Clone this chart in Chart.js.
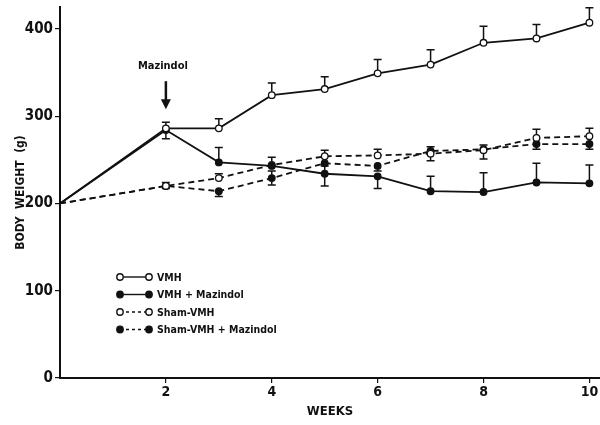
<!DOCTYPE html>
<html>
<head>
<meta charset="utf-8">
<script src="https://cdn.jsdelivr.net/npm/chart.js@4.4.1/dist/chart.umd.min.js"></script>
<style>
body{margin:0;background:#fff}
#contenedor{width:600px;height:425px;position:relative}
</style>
</head>
<body>
<div id="contenedor"><canvas id="grafica"></canvas></div>
<script>
// valores (peso en g por semana)
var semanas = [0, 2, 3, 4, 5, 6, 7, 8, 9, 10]
var vmh = [200, 286, 286, 324, 331, 349, 359, 384, 389, 407]
var vmh_err_arriba = [0, 7, 11, 14, 14, 16, 17, 19, 16, 17]
var vmh_err_abajo = [0, 0, 0, 0, 0, 0, 0, 0, 0, 0]
var vmh_maz = [200, 284, 247, 243, 234, 231, 214, 213, 224, 223]
var vmh_maz_err_arriba = [0, 0, 17, 0, 9, 0, 17, 22, 22, 21]
var vmh_maz_err_abajo = [0, 10, 0, 0, 14, 14, 0, 0, 0, 0]
var sham = [200, 220, 229, 244, 254, 255, 257, 261, 275, 277]
var sham_err_arriba = [0, 4, 5, 9, 7, 7, 0, 0, 10, 9]
var sham_err_abajo = [0, 0, 0, 0, 0, 0, 8, 10, 0, 0]
var sham_maz = [200, 220, 214, 229, 246, 243, 260, 262, 268, 268]
var sham_maz_err_arriba = [0, 0, 0, 8, 0, 0, 5, 5, 0, 0]
var sham_maz_err_abajo = [0, 3, 6, 8, 0, 6, 0, 0, 6, 6]
var etiquetas_y = [0, 100, 200, 300, 400]
var etiquetas_x = [2, 4, 6, 8, 10]
var nombres = ["VMH", "VMH + Mazindol", "Sham-VMH", "Sham-VMH + Mazindol"]

var fuente = "'DejaVu Sans Condensed', 'Liberation Sans Narrow', sans-serif"

function puntos(valores) {
    return semanas.map(function (s, i) { return { x: s, y: valores[i] } })
}

function serie(nombre, valores, relleno, guiones, arriba, abajo) {
    return {
        label: nombre,
        data: puntos(valores),
        borderColor: "#111",
        borderWidth: 1.8,
        borderDash: guiones,
        // en la semana 0 no hay marcador
        pointRadius: function (c) { return c.dataIndex === 0 ? 0 : 3.3 },
        pointBorderWidth: 1.3,
        pointBackgroundColor: relleno,
        pointBorderColor: "#111",
        tension: 0,
        clip: false,
        err_arriba: arriba,
        err_abajo: abajo
    }
}

// barras de error (solo en un sentido en casi todos los puntos)
var barras_error = {
    id: "barras_error",
    beforeDatasetsDraw: function (chart) {
        var ctx = chart.ctx
        var ey = chart.scales.y
        ctx.save()
        ctx.strokeStyle = "#111"
        ctx.lineWidth = 1.5
        chart.data.datasets.forEach(function (ds, d) {
            var meta = chart.getDatasetMeta(d)
            meta.data.forEach(function (p, i) {
                var v = ds.data[i].y
                var lados = [ds.err_arriba[i], -ds.err_abajo[i]]
                lados.forEach(function (e) {
                    if (!e) return
                    var y2 = ey.getPixelForValue(v + e)
                    ctx.beginPath()
                    ctx.moveTo(p.x, p.y)
                    ctx.lineTo(p.x, y2)
                    ctx.moveTo(p.x - 4, y2)
                    ctx.lineTo(p.x + 4, y2)
                    ctx.stroke()
                })
            })
        })
        ctx.restore()
    }
}

// flecha de Mazindol y leyenda dentro del area
var anotaciones = {
    id: "anotaciones",
    afterDatasetsDraw: function (chart) {
        var ctx = chart.ctx
        var ex = chart.scales.x, ey = chart.scales.y
        ctx.save()
        var x = ex.getPixelForValue(2)
        var y1 = ey.getPixelForValue(340), y2 = ey.getPixelForValue(308)
        ctx.fillStyle = "#111"
        ctx.strokeStyle = "#111"
        ctx.font = "bold 11px " + fuente
        ctx.textAlign = "center"
        ctx.fillText("Mazindol", x - 3, ey.getPixelForValue(354))
        ctx.lineWidth = 2.5
        ctx.beginPath()
        ctx.moveTo(x, y1)
        ctx.lineTo(x, y2 - 8)
        ctx.stroke()
        ctx.beginPath()
        ctx.moveTo(x - 5, y2 - 10)
        ctx.lineTo(x + 5, y2 - 10)
        ctx.lineTo(x, y2)
        ctx.closePath()
        ctx.fill()

        ctx.textAlign = "left"
        ctx.textBaseline = "middle"
        ctx.font = "bold 10.5px " + fuente
        chart.data.datasets.forEach(function (ds, i) {
            var yy = 277 + i * 17.5
            ctx.lineWidth = 1.4
            ctx.setLineDash(ds.borderDash.length ? [3, 3] : [])
            ctx.beginPath()
            ctx.moveTo(120, yy)
            ctx.lineTo(149, yy)
            ctx.stroke()
            ctx.setLineDash([])
            ;[120, 149].forEach(function (cx) {
                ctx.beginPath()
                ctx.arc(cx, yy, 3.2, 0, Math.PI * 2)
                ctx.fillStyle = ds.pointBackgroundColor
                ctx.fill()
                ctx.stroke()
            })
            ctx.fillStyle = "#111"
            ctx.fillText(ds.label, 157, yy + 1)
        })
        ctx.restore()
    }
}

var carga = {
    type: "line",
    data: {
        datasets: [
            serie(nombres[0], vmh, "#fff", [], vmh_err_arriba, vmh_err_abajo),
            serie(nombres[1], vmh_maz, "#111", [], vmh_maz_err_arriba, vmh_maz_err_abajo),
            serie(nombres[2], sham, "#fff", [6, 4], sham_err_arriba, sham_err_abajo),
            serie(nombres[3], sham_maz, "#111", [6, 4], sham_maz_err_arriba, sham_maz_err_abajo)
        ]
    },
    options: {
        responsive: true,
        maintainAspectRatio: false,
        animation: false,
        layout: { autoPadding: false, padding: { top: 7, right: 0, left: 0, bottom: 0 } },
        plugins: {
            legend: { display: false },
            tooltip: { enabled: false }
        },
        scales: {
            x: {
                type: "linear",
                min: 0,
                max: 10.2,
                afterFit: function (s) {
                    s.height = 47
                    s.paddingRight = 0
                    s.paddingLeft = 0
                },
                afterBuildTicks: function (s) {
                    s.ticks = etiquetas_x.map(function (v) { return { value: v } })
                },
                border: { color: "#111", width: 2 },
                grid: { display: true, drawOnChartArea: false, tickLength: 5, color: "#111", lineWidth: 1.2 },
                ticks: { color: "#111", font: { family: fuente, size: 14, weight: "bold" }, padding: 1 },
                title: {
                    display: true, text: "WEEKS", color: "#111",
                    font: { family: fuente, size: 13, weight: "bold" },
                    padding: { top: 0, bottom: 6 }
                }
            },
            y: {
                min: 0,
                max: 425,
                afterFit: function (s) {
                    s.width = 60
                    s.paddingTop = 0
                    s.paddingBottom = 0
                },
                afterBuildTicks: function (s) {
                    s.ticks = etiquetas_y.map(function (v) { return { value: v } })
                },
                border: { color: "#111", width: 2 },
                grid: { display: true, drawOnChartArea: false, tickLength: 5, color: "#111", lineWidth: 1.2 },
                ticks: { color: "#111", font: { family: fuente, size: 15, weight: "bold" }, padding: 2 },
                title: {
                    display: true, text: "BODY  WEIGHT  (g)", color: "#111",
                    font: { family: fuente, size: 12, weight: "bold" },
                    padding: { top: 14, bottom: 0 }
                }
            }
        }
    },
    plugins: [barras_error, anotaciones]
}

var grafica = new Chart(document.getElementById("grafica"), carga)
</script>
</body>
</html>
